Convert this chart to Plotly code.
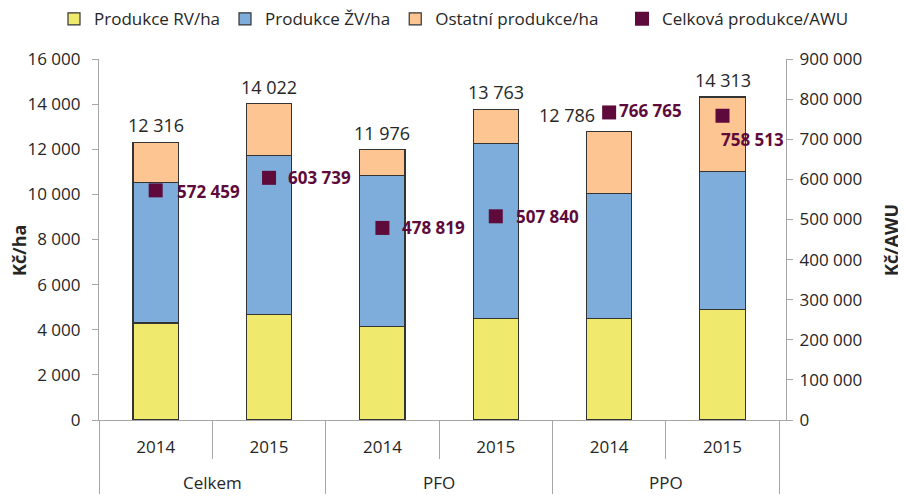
import plotly.graph_objects as go

groups = ["Celkem", "Celkem", "PFO", "PFO", "PPO", "PPO"]
years = ["2014", "2015", "2014", "2015", "2014", "2015"]
totals = [12316, 14022, 11976, 13763, 12786, 14313]
rv = [4300, 4690, 4160, 4500, 4500, 4900]
zv = [6220, 7020, 6680, 7740, 5530, 6130]
ostatni = [t - a - b for t, a, b in zip(totals, rv, zv)]
awu = [572459, 603739, 478819, 507840, 766765, 758513]

# label placement (style only)
total_dx = [0, 0, 0, 0, -42, 0]
awu_label_dx = [19, 17, 18, 18, 8, 30]
awu_label_dy = [-1, 0, 0, 0, 2, -24]
awu_label_anchor = ["left", "left", "left", "left", "left", "center"]

# page body has an 8px margin; the figure is sized to fit inside the window
W, H = 898, 488
ML, MR, MT, MB = 91, 120, 51, 76
PW, PH = W - ML - MR, H - MT - MB
FONT = "Open Sans"
TXT = "#262626"
MAROON = "#5E0B3B"
AX = "#A6A6A6"
EDGE = "#333333"

x = [["<br>" + g for g in groups], years]

def fmt(v):
    return f"{v:,}".replace(",", " ")

fig = go.Figure()
fig.add_trace(go.Bar(x=x, y=rv, name="Produkce RV/ha", marker=dict(color="#EFEA6E", line=dict(color=EDGE, width=1.2))))
fig.add_trace(go.Bar(x=x, y=zv, name="Produkce ŽV/ha", marker=dict(color="#7EADDC", line=dict(color=EDGE, width=1.2))))
fig.add_trace(go.Bar(x=x, y=ostatni, name="Ostatní produkce/ha", marker=dict(color="#FCC592", line=dict(color=EDGE, width=1.2))))
fig.add_trace(go.Scatter(x=x, y=awu, yaxis="y2", mode="markers", name="Celková produkce/AWU",
                         marker=dict(symbol="square", size=14, color=MAROON), legend="legend2"))

annotations = []
for i, t in enumerate(totals):
    annotations.append(dict(x=i, y=t, xref="x", yref="y", text=fmt(t), showarrow=False,
                            yanchor="bottom", yshift=3, xshift=total_dx[i],
                            font=dict(family=FONT, size=18, color=TXT)))
for i, v in enumerate(awu):
    annotations.append(dict(x=i, y=v, xref="x", yref="y2", text="<b>" + fmt(v) + "</b>", showarrow=False,
                            xanchor=awu_label_anchor[i], yanchor="middle",
                            xshift=awu_label_dx[i], yshift=awu_label_dy[i],
                            font=dict(family=FONT, size=17, color=MAROON)))
# axis titles
annotations.append(dict(x=(11 - ML) / PW, y=(MT + PH - 243) / PH, xref="paper", yref="paper",
                        text="<b>Kč/ha</b>", textangle=-90, showarrow=False, borderpad=0,
                        xanchor="center", yanchor="middle", font=dict(family=FONT, size=18, color=TXT)))
annotations.append(dict(x=(883 - ML) / PW, y=(MT + PH - 232) / PH, xref="paper", yref="paper",
                        text="<b>Kč/AWU</b>", textangle=-90, showarrow=False, borderpad=0,
                        xanchor="center", yanchor="middle", font=dict(family=FONT, size=18, color=TXT)))

fig.update_layout(
    width=W, height=H,
    margin=dict(l=ML, r=MR, t=MT, b=MB, autoexpand=False),
    barmode="stack", bargap=0.6,
    plot_bgcolor="white", paper_bgcolor="white",
    separators=", ",
    font=dict(family=FONT, size=17, color=TXT),
    annotations=annotations,
    legend=dict(orientation="h", x=46 / W, xref="container", xanchor="left", y=1.16, yanchor="top",
                font=dict(size=17), traceorder="normal"),
    legend2=dict(orientation="h", x=614 / W, xref="container", xanchor="left", y=1.16, yanchor="top",
                 font=dict(size=17)),
    xaxis=dict(type="multicategory", showline=True, linecolor=AX, linewidth=1.3,
               ticks="outside", tickson="boundaries", ticklen=38, tickcolor=AX, tickwidth=1.3,
               showdividers=True, dividercolor=AX, dividerwidth=1.3, ticklabelstandoff=11,
               tickfont=dict(size=17, color=TXT)),
    yaxis=dict(range=[0, 16000], dtick=2000, tickformat=",d", showgrid=False, zeroline=False,
               showline=True, linecolor=AX, linewidth=1.3, ticks="outside", ticklen=6, tickcolor=AX,
               ticklabelstandoff=8, tickfont=dict(size=17, color=TXT)),
    yaxis2=dict(range=[0, 900000], dtick=100000, tickformat=",d", overlaying="y", side="right",
                showgrid=False, zeroline=False, showline=True, linecolor=AX, linewidth=1.3,
                ticks="outside", ticklen=6, tickcolor=AX, ticklabelstandoff=3,
                tickfont=dict(size=17, color=TXT)),
)

fig.write_html("out.html")
